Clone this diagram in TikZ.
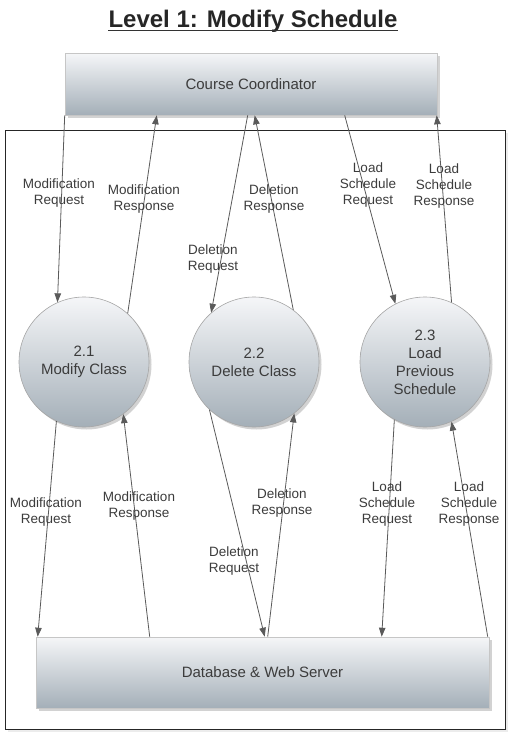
\documentclass[tikz,border=0pt]{standalone}
\usepackage{fontspec}
\setmainfont{Liberation Sans}
\usetikzlibrary{arrows.meta,shadows}
\definecolor{txt}{HTML}{3C3C3C}
\definecolor{ln}{HTML}{5A5A5A}
\definecolor{shtop}{HTML}{F5F6F8}
\definecolor{shbot}{HTML}{A4AFB8}
\begin{document}
\begin{tikzpicture}[x=1pt,y=-1pt,
  ent/.style={rectangle,draw=gray!45,line width=0.6pt,top color=shtop,bottom color=shbot,
     text=txt,font=\fontsize{15}{18}\selectfont,inner sep=0pt,
     drop shadow={opacity=0.35,shadow xshift=2.5pt,shadow yshift=-2.5pt}},
  proc/.style={circle,draw=gray!70,line width=0.6pt,top color=shtop,bottom color=shbot,
     text=txt,font=\fontsize{15}{18}\selectfont,align=center,minimum size=130pt,inner sep=0pt,
     drop shadow={opacity=0.35,shadow xshift=2.5pt,shadow yshift=-2.5pt}},
  lbl/.style={text=txt,font=\fontsize{13.5}{16}\selectfont,align=center,inner sep=0pt},
  flow/.style={draw=ln,line width=0.8pt,-{Triangle[length=9pt,width=6.5pt]}}
]
\useasboundingbox (0,0) rectangle (531,747);
% title
\node[anchor=base,inner sep=0pt,font=\bfseries\fontsize{24}{28}\selectfont,text=black!85] (title) at (253,27) {Level 1: Modify Schedule};
\draw[black!80,line width=1pt] ([yshift=-3.5pt]title.base west) -- ([yshift=-3.5pt]title.base east);
% outer frame
\draw[black!85,fill=white,line width=0.8pt,drop shadow={opacity=0.15,shadow xshift=3pt,shadow yshift=-3pt}] (5,130) rectangle (505,729);
% entities
\node[ent,minimum width=372pt,minimum height=62pt] (cc) at (251,84) {Course Coordinator};
\node[ent,minimum width=453pt,minimum height=71pt] (db) at (262.5,672.5) {Database \& Web Server};
% processes
\node[proc] (p1) at (84,362) {2.1\\Modify Class};
\node[proc] (p2) at (254,362) {2.2\\Delete Class};
\node[proc] (p3) at (425,362) {2.3\\Load\\Previous\\Schedule};
% top flows
\draw[flow] ([xshift=0pt]cc.south west) -- (p1.114);
\draw[flow] (p1.48) -- ([xshift=92pt]cc.south west);
\draw[flow] ([xshift=183pt]cc.south west) -- (p2.131);
\draw[flow] (p2.53) -- ([xshift=190pt]cc.south west);
\draw[flow] ([xshift=280pt]cc.south west) -- (p3.117);
\draw[flow] (p3.66) -- ([xshift=372pt]cc.south west);
% bottom flows
\draw[flow] (p1.245) -- ([xshift=2pt]db.north west);
\draw[flow] ([xshift=114pt]db.north west) -- (p1.-53);
\draw[flow] (p2.227) -- ([xshift=229pt]db.north west);
\draw[flow] ([xshift=232pt]db.north west) -- (p2.-52);
\draw[flow] (p3.242) -- ([xshift=346pt]db.north west);
\draw[flow] ([xshift=452pt]db.north west) -- (p3.-66);
% labels top
\node[lbl] (l1) at (59,193) {Modification\\Request};
\node[lbl] (l2) at (144,199) {Modification\\Response};
\node[lbl] (l3) at (213,259) {Deletion\\Request};
\node[lbl] (l4) at (274,199) {Deletion\\Response};
\node[lbl] (l5) at (368,185) {Load\\Schedule\\Request};
\node[lbl] (l6) at (444,186) {Load\\Schedule\\Response};
% labels bottom
\node[lbl] (l7) at (46,512) {Modification\\Request};
\node[lbl] (l8) at (139,506) {Modification\\Response};
\node[lbl] (l9) at (282,503) {Deletion\\Response};
\node[lbl] (l10) at (234,561) {Deletion\\Request};
\node[lbl] (l11) at (387,504) {Load\\Schedule\\Request};
\node[lbl] (l12) at (469,504) {Load\\Schedule\\Response};
\end{tikzpicture}
\end{document}
